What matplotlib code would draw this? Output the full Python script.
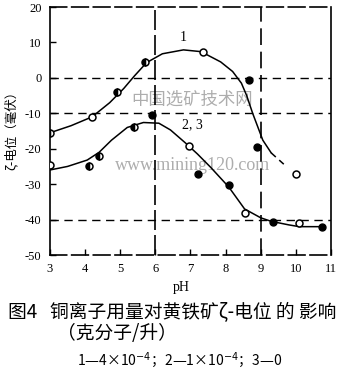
import matplotlib
matplotlib.use("Agg")
import matplotlib.pyplot as plt

plt.rcParams['font.family'] = ['Liberation Serif', 'Noto Sans CJK SC', 'DejaVu Sans']

# ---- data ----
# curve 1 (4e-4 mol/L)
c1_hollow_x = [4.2, 7.35, 10.0]
c1_hollow_y = [-11.0, 7.3, -27.0]
c1_filled_x = [8.66, 8.9]
c1_filled_y = [-0.6, -19.5]
c1_half_x = [3.0, 4.9, 5.7]
c1_half_y = [-15.6, -4.0, 4.5]
c1_line_x = [3.0, 3.6, 4.2, 4.7, 5.1, 5.4, 5.75, 6.2, 6.8, 7.3, 7.86, 8.2, 8.45, 8.6, 8.77, 9.06, 9.3]
c1_line_y = [-15.5, -13.5, -11.0, -7.0, -3.0, 0.5, 4.3, 6.8, 7.9, 7.4, 4.5, 1.8, -1.5, -5.0, -10.0, -17.6, -21.2]
c1_tail_x = [9.3, 9.75]
c1_tail_y = [-21.2, -25.2]

# curves 2,3 (1e-4 and 0 mol/L)
c2_hollow_x = [3.0, 6.95, 8.55, 10.1]
c2_hollow_y = [-24.6, -19.3, -38.2, -41.0]
c2_filled_x = [5.9, 7.2, 8.1, 9.35, 10.75]
c2_filled_y = [-10.5, -27.0, -30.3, -40.7, -42.1]
c2_half_x = [4.1, 4.4, 5.4]
c2_half_y = [-25.0, -22.0, -14.0]
c2_line_x = [3.0, 3.5, 4.06, 4.4, 4.75, 5.2, 5.66, 6.1, 6.43, 6.86, 7.2, 7.57, 8.09, 8.54, 9.0, 9.3, 9.8, 10.1, 10.7]
c2_line_y = [-26.0, -25.0, -23.2, -21.0, -17.6, -14.0, -12.6, -12.8, -14.7, -18.4, -21.5, -25.2, -30.8, -37.0, -39.5, -40.5, -41.5, -42.0, -42.0]

x_ticks = [3, 4, 5, 6, 7, 8, 9, 10, 11]
y_ticks = [20, 10, 0, -10, -20, -30, -40, -50]
y_tick_labels = ['20', '10', '0', '-10', '-20', '-30', '-40', '-50']

# ---- figure ----
fig = plt.figure(figsize=(3.53, 3.77), dpi=100)
ax = fig.add_axes([0.1416, 0.3236, 0.796, 0.6578])
ax.set_xlim(3, 11)
ax.set_ylim(-50, 20)

# grid-like dashed lines
for yv in [0, -10, -40]:
    ax.axhline(yv, color='black', lw=1.0, ls=(0, (6, 4)), zorder=1)
ax.axvline(6, color='black', lw=1.2, ls=(0, (12, 3)), zorder=1)
ax.axvline(9, color='black', lw=1.2, ls=(0, (10, 4)), zorder=1)

lc = 'black'
ax.plot(c1_line_x, c1_line_y, color=lc, lw=1.1, zorder=2)
ax.plot(c1_tail_x, c1_tail_y, color=lc, lw=1.1, ls=(0, (4, 3)), zorder=2)
ax.plot(c2_line_x, c2_line_y, color=lc, lw=1.1, zorder=2)

ms = 5
for hx, hy, fx, fy, sx, sy in [(c1_hollow_x, c1_hollow_y, c1_filled_x, c1_filled_y, c1_half_x, c1_half_y),
                               (c2_hollow_x, c2_hollow_y, c2_filled_x, c2_filled_y, c2_half_x, c2_half_y)]:
    ax.plot(hx, hy, 'o', ms=ms, mfc='white', mec='black', mew=1.1, ls='none', zorder=3)
    ax.plot(fx, fy, 'o', ms=ms, mfc='black', mec='black', mew=1.0, ls='none', zorder=3)
    ax.plot(sx, sy, 'o', ms=ms, mfc='black', mec='black', mew=1.1, fillstyle='left',
            markerfacecoloralt='white', ls='none', zorder=3)

ax.text(6.8, 11.5, '1', fontsize=10, ha='center', va='center')
ax.text(7.05, -13.3, '2, 3', fontsize=10, ha='center', va='center')

# watermarks
ax.text(7.05, -6.3, '中国选矿技术网', fontsize=12.5, color='#adadad', ha='center', va='center',
        family=['Noto Sans CJK SC'], zorder=0)
ax.text(7.05, -24.6, 'www.mining120.com', fontsize=13, color='#adadad', ha='center', va='center', zorder=0)

ax.set_xticks(x_ticks)
ax.set_yticks(y_ticks)
ax.set_yticklabels(y_tick_labels)
ax.tick_params(direction='in', length=4, width=1, labelsize=9, pad=6)
for s in ax.spines.values():
    s.set_linewidth(1.2)
ax.spines['top'].set_linestyle((0, (10, 3)))
ax.spines['bottom'].set_linestyle((0, (10, 3)))

fig.text(181 / 353, 1 - 287 / 377, 'pH', fontsize=10, ha='center', va='center')
fig.text(11 / 353, 1 - 127 / 377, 'ζ-电位（毫伏）', fontsize=9, rotation=90, ha='center', va='center',
         family=['Noto Sans CJK SC', 'DejaVu Sans'])

fig.text(8 / 353, 1 - 312 / 377, '图4   铜离子用量对黄铁矿ζ-电位 的 影响', fontsize=13.5, ha='left', va='center',
         family=['Noto Sans CJK SC', 'DejaVu Sans'])
fig.text(57 / 353, 1 - 334 / 377, '（克分子/升）', fontsize=13.5, ha='left', va='center',
         family=['Noto Sans CJK SC', 'DejaVu Sans'])
fig.text(77 / 353, 1 - 360 / 377, '1—4×10$^{-4}$；2—1×10$^{-4}$；3—0', fontsize=10, ha='left', va='center',
         family=['Noto Sans CJK SC', 'DejaVu Sans'])

fig.savefig('out.png', dpi=100)
